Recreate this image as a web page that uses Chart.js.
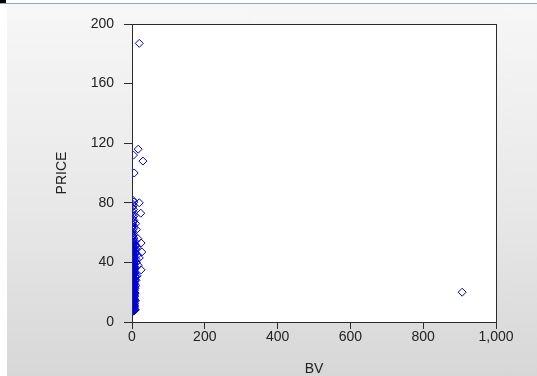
<!DOCTYPE html>
<html><head><meta charset="utf-8">
<script src="https://cdn.jsdelivr.net/npm/chart.js@4/dist/chart.umd.min.js"></script>
<style>
html,body{margin:0;padding:0;width:537px;height:376px;overflow:hidden;}
body{background:linear-gradient(to bottom,#f7f7f7 0%,#e8e8e8 55%,#d7d7d7 100%);position:relative;}
#topbar{position:absolute;left:0;top:0;width:537px;height:3px;background:#fff;border-bottom:1px solid #8ea6cf;}
#corner{position:absolute;left:0;top:0;width:6px;height:3px;background:#000;}
#leftstrip{position:absolute;left:0;top:4px;width:7px;height:372px;background:#fff;}
#wrap{position:absolute;left:0;top:0;width:537px;height:376px;}
</style></head><body>
<div id="topbar"></div><div id="corner"></div><div id="leftstrip"></div>
<div id="wrap"><canvas id="c" width="537" height="376"></canvas></div>
<script>
const BV = [
 3.1,5.8,1.4,7.9,4.2,2.6,6.5,0.9,3.8,5.2,
 1.9,4.7,2.3,6.9,0.6,3.5,5.5,1.1,4.0,2.8,
 6.1,0.7,3.3,5.0,1.6,4.4,2.4,7.2,0.5,3.7,
 5.9,1.3,4.1,2.2,6.6,0.9,3.0,5.3,1.8,4.6,
 2.5,8.1,0.4,3.6,5.7,1.2,4.3,2.0,6.4,0.8,
 3.2,5.1,1.5,4.9,2.7,7.5,0.6,3.9,6.0,1.0,
 4.5,2.1,9.2,0.7,3.4,5.4,1.7,4.8,2.6,6.8,
 0.5,3.1,5.6,1.4,4.2,2.9,7.0,0.8,3.8,5.0,
 1.9,4.0,2.3,6.3,1.1,3.5,5.8,1.6,4.7,2.4,
 8.5,0.9,3.3,5.5,1.3,4.4,2.8,6.7,0.6,3.0,
 5.2,1.8,4.1,2.2,7.4,1.0,3.6,5.9,1.5,4.6,
 2.0,9.8,0.7,3.9,6.2,1.2,4.3,2.5,10.5,0.8,
 3.2,5.7,1.4,4.8,2.7,7.8,0.5,3.4,1.9,5.1,
 0.9,2.6,4.0,1.3,3.0,0.7,2.2,4.5,1.1,3.5,
 0.6,2.4,5.0,1.0,3.1,0.5,24,6.5,2.0,4.2,
 0.8,3.3,1.5,20,5.0,2.5,
 13,15,12,14,11,16,12,10,
 20,17,4,30,6,25,27,20,17,25,907,
 4.6,1.2,6.8,2.9,5.3,0.8,7.4,3.6,1.7,6.0,
 2.4,5.1,0.6,7.7,3.2,4.9,1.5,6.3,2.7,5.6,
 0.9,7.1,3.8,4.4,1.1,6.6,2.1,5.8,0.7,7.9,
 3.4,4.7,1.9,6.1,2.6,5.4,1.3,7.3,3.0,4.2,
 0.5,6.9,2.3,5.0,1.6,7.6,3.7,4.1,1.0,6.4,
 2.8,5.5,0.8,7.0,3.3,4.8,1.4,6.2,2.0,5.2,
 8.8,9.5,8.2,10.1,9.0,8.6,11.2,9.3
];
const PRICE = [
 7.2,7.6,8.0,8.3,8.7,9.1,9.4,9.9,10.3,10.6,
 11.0,11.4,11.8,12.1,12.5,12.9,13.3,13.6,14.0,14.4,
 14.8,15.1,15.5,15.9,16.3,16.6,17.0,17.4,17.8,18.1,
 18.5,18.9,19.3,19.6,20.0,20.4,20.8,21.1,21.5,21.9,
 22.3,22.6,23.0,23.4,23.8,24.1,24.5,24.9,25.3,25.6,
 26.0,26.4,26.8,27.1,27.5,27.9,28.3,28.6,29.0,29.4,
 29.8,30.1,30.5,30.9,31.3,31.6,32.0,32.4,32.8,33.1,
 33.5,33.9,34.3,34.6,35.0,35.4,35.8,36.1,36.5,36.9,
 37.3,37.6,38.0,38.4,38.8,39.1,39.5,39.9,40.3,40.6,
 41.0,41.4,41.8,42.1,42.5,42.9,43.3,43.6,44.0,44.4,
 44.8,45.1,45.5,45.9,46.3,46.6,47.0,47.4,47.8,48.1,
 48.5,48.9,49.3,49.6,50.0,50.4,50.8,51.1,51.5,51.9,
 52.3,52.6,53.0,53.4,53.8,54.1,54.5,55.0,55.6,56.3,
 57.0,57.8,58.5,59.3,60.1,61.0,62.0,63.1,64.2,65.0,
 65.9,67.0,68.2,69.5,70.8,72.0,73.0,71.5,74.2,75.6,
 76.9,78.0,79.2,80.0,80.5,81.7,
 50,45,40,31,28,56,62,66,
 187,116,112,108,100,53,47,43,38,35,20,
 7.4,7.9,8.5,9.0,9.6,10.1,10.8,11.3,11.9,12.4,
 13.0,13.5,14.1,14.6,15.2,15.7,16.4,16.9,17.5,18.0,
 18.6,19.1,19.8,20.3,20.9,21.4,22.0,22.5,23.2,23.7,
 24.3,24.8,25.4,25.9,26.6,27.1,27.7,28.2,28.8,29.3,
 30.0,30.5,31.1,31.6,32.2,32.7,33.4,33.9,34.5,35.0,
 35.6,36.1,36.8,37.3,37.9,38.4,39.0,39.5,40.2,40.7,
 8.1,14.2,19.4,24.6,30.8,36.3,42.0,46.8
];
const X_TICKS = [0,200,400,600,800,1000];
const Y_TICKS = [0,40,80,120,160,200];

const points = BV.map((x,i)=>({x:x, y:PRICE[i]}));
const AXIS = '#2b2b2b';
const FONT = {family:'"Liberation Sans", Arial, sans-serif', size:14};

const framePlugin = {
  id:'frame',
  beforeDraw(chart){
    const {ctx, chartArea:a} = chart;
    ctx.save(); ctx.fillStyle='#fff';
    ctx.fillRect(a.left,a.top,a.right-a.left,a.bottom-a.top);
    ctx.restore();
  },
  afterDraw(chart){
    const {ctx, chartArea:a} = chart;
    const l=Math.round(a.left)+0.5, r=Math.round(a.right)+0.5, t=Math.round(a.top)+0.5, b=Math.round(a.bottom)+0.5;
    ctx.save(); ctx.strokeStyle=AXIS; ctx.lineWidth=1;
    ctx.strokeRect(l,t,r-l,b-t);
    ctx.restore();
  }
};

new Chart(document.getElementById('c'), {
  type:'scatter',
  data:{datasets:[{
    data:points,
    pointStyle:'rectRot',
    pointRadius:4,
    pointBorderWidth:1,
    pointBorderColor:'#0000e0',
    pointBackgroundColor:'rgba(0,0,0,0)'
  }]},
  options:{
    responsive:false,
    devicePixelRatio:1,
    animation:false,
    events:[],
    layout:{padding:{top:24,right:41,left:0,bottom:0}},
    plugins:{legend:{display:false},tooltip:{enabled:false}},
    scales:{
      x:{
        type:'linear', min:0, max:1000,
        afterBuildTicks(s){ s.ticks = X_TICKS.map(v=>({value:v})); },
        afterFit(s){ s.height = 54; },
        ticks:{font:FONT,color:'#222',padding:0,callback:v=>v.toLocaleString('en-US')},
        grid:{drawOnChartArea:false,drawTicks:true,tickLength:7,color:AXIS},
        border:{display:true,color:AXIS},
        title:{display:true,text:'BV',font:Object.assign({lineHeight:1},FONT),color:'#222',padding:{top:0,bottom:0}}
      },
      y:{
        type:'linear', min:0, max:200,
        afterBuildTicks(s){ s.ticks = Y_TICKS.map(v=>({value:v})); },
        afterFit(s){ s.width = 132; },
        ticks:{font:FONT,color:'#222',padding:10},
        grid:{drawOnChartArea:false,drawTicks:true,tickLength:8,color:AXIS},
        border:{display:true,color:AXIS},
        title:{display:true,text:'PRICE',font:Object.assign({lineHeight:1},FONT),color:'#222',padding:{top:55,bottom:0}}
      }
    }
  },
  plugins:[framePlugin]
});
</script>
</body></html>
